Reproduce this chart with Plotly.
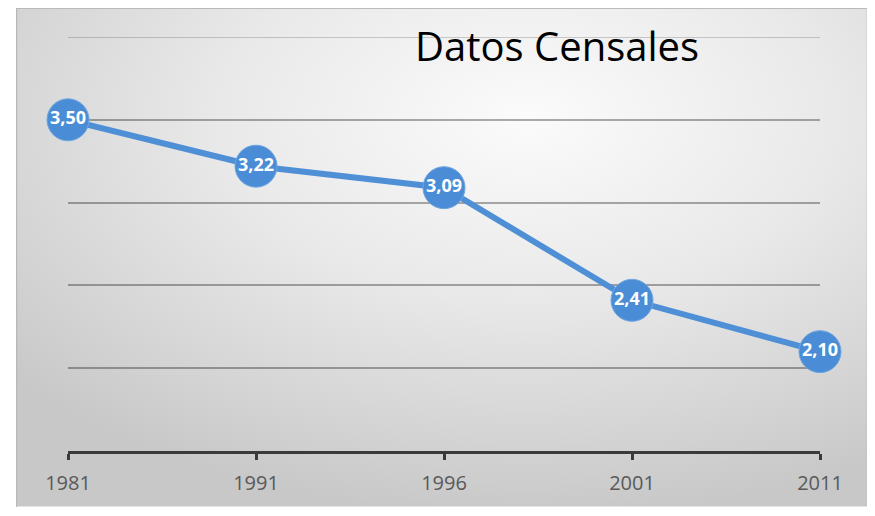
import base64
import plotly.graph_objects as go

years = ["1981", "1991", "1996", "2001", "2011"]
valores = [3.50, 3.22, 3.09, 2.41, 2.10]
etiquetas = ["3,50", "3,22", "3,09", "2,41", "2,10"]
titulo = "Datos Censales"

# page has an 8px body margin, so the figure is a bit smaller than the window
W, H = 860, 500
L, R, T, B = 60, 48, 29, 47

# radial gradient background like the office chart area
svg = """<svg xmlns='http://www.w3.org/2000/svg' width='850' height='510' viewBox='0 0 850 510' preserveAspectRatio='none'>
<defs><radialGradient id='g' cx='0.6' cy='0.22' r='0.8'>
<stop offset='0' stop-color='#fbfbfb'/>
<stop offset='0.45' stop-color='#e9e9e9'/>
<stop offset='1' stop-color='#c8c8c8'/>
</radialGradient></defs>
<rect x='0' y='0' width='850' height='510' fill='url(#g)'/>
<rect x='0.5' y='0.5' width='849' height='520' fill='none' stroke='#b8b8b8' stroke-width='1.5'/>
</svg>"""
src = "data:image/svg+xml;base64," + base64.b64encode(svg.encode()).decode()

pw, ph = W - L - R, H - T - B
def px_x(x):
    return (x - L) / pw
def px_y(y):
    return (H - B - y) / ph

fig = go.Figure()
fig.add_trace(go.Scatter(
    x=years, y=valores, mode="lines+markers+text",
    line=dict(color="#4f8fd6", width=6),
    marker=dict(size=42, color="#4a8cd6", line=dict(color="#6fa6e0", width=1)),
    text=etiquetas, textposition="middle center",
    textfont=dict(family="Open Sans", size=18, color="white", weight="bold"),
    cliponaxis=False, hoverinfo="skip",
))

fig.update_layout(
    width=W, height=H,
    margin=dict(l=L, r=R, t=T, b=B),
    paper_bgcolor="white", plot_bgcolor="rgba(0,0,0,0)",
    showlegend=False,
    images=[dict(source=src, xref="paper", yref="paper",
                 x=px_x(8), y=px_y(-1), sizex=px_x(860) - px_x(8),
                 sizey=px_y(-1) - px_y(510), xanchor="left", yanchor="top",
                 sizing="stretch", layer="below")],
    annotations=[dict(text=titulo, xref="paper", yref="paper",
                      x=px_x(549), y=px_y(38), xanchor="center", yanchor="middle",
                      showarrow=False,
                      font=dict(family="Open Sans", size=40, color="black"))],
    # top gridline sits on the plot edge, plotly drops it
    shapes=[dict(type="line", xref="paper", x0=0, x1=1, yref="y", y0=4.0, y1=4.0,
                 line=dict(color="rgba(0,0,0,0.18)", width=2), layer="below")],
)
fig.update_xaxes(
    type="category", range=[0, 4], showgrid=False,
    showline=True, linecolor="#3a3a3a", linewidth=3,
    ticks="outside", ticklen=6, tickwidth=3, tickcolor="#3a3a3a",
    ticklabelstandoff=6,
    tickfont=dict(family="Open Sans", size=20, color="#595959"),
)
fig.update_yaxes(
    range=[1.5, 4.0], tickvals=[2.0, 2.5, 3.0, 3.5],
    showticklabels=False, zeroline=False,
    showgrid=True, gridcolor="rgba(0,0,0,0.32)", gridwidth=2, showline=False,
)

fig.write_html("out.html")
